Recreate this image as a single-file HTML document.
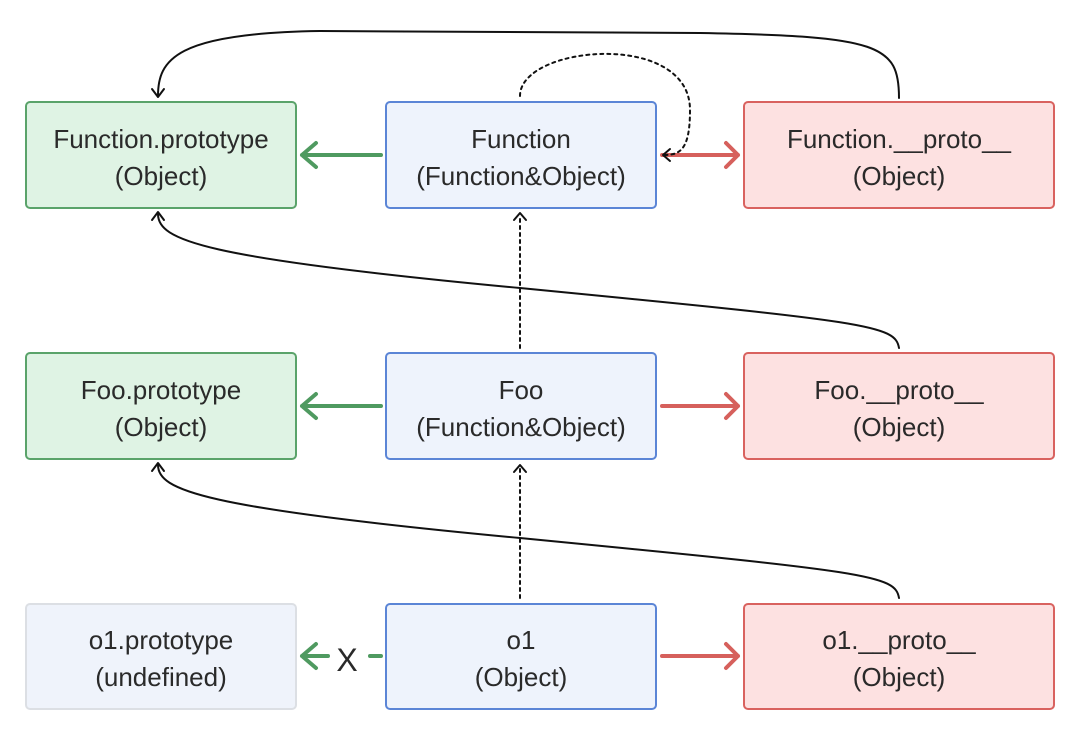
<!DOCTYPE html>
<html><head><meta charset="utf-8"><style>
body{margin:0;background:#fff}
svg text{font-family:"Liberation Sans","Noto Sans CJK SC",sans-serif;font-size:26px;fill:#2a2a2a;text-anchor:middle}
</style></head><body>
<svg width="1080" height="735" viewBox="0 0 1080 735" xmlns="http://www.w3.org/2000/svg">
<g stroke-width="2">
<rect x="26" y="102" width="270" height="106" rx="4" fill="#dff3e4" stroke="#5aa36a"/>
<rect x="386" y="102" width="270" height="106" rx="4" fill="#eef3fc" stroke="#5b85d6"/>
<rect x="744" y="102" width="310" height="106" rx="4" fill="#fde1e1" stroke="#d9625f"/>
<rect x="26" y="353" width="270" height="106" rx="4" fill="#dff3e4" stroke="#5aa36a"/>
<rect x="386" y="353" width="270" height="106" rx="4" fill="#eef3fc" stroke="#5b85d6"/>
<rect x="744" y="353" width="310" height="106" rx="4" fill="#fde1e1" stroke="#d9625f"/>
<rect x="26" y="604" width="270" height="105" rx="4" fill="#eff3fb" stroke="#dcdfe4"/>
<rect x="386" y="604" width="270" height="105" rx="4" fill="#eef3fc" stroke="#5b85d6"/>
<rect x="744" y="604" width="310" height="105" rx="4" fill="#fde1e1" stroke="#d9625f"/>
</g>
<text x="161" y="148">Function.prototype</text><text x="161" y="185">(Object)</text>
<text x="521" y="148">Function</text><text x="521" y="185">(Function&amp;Object)</text>
<text x="899" y="148">Function.__proto__</text><text x="899" y="185">(Object)</text>
<text x="161" y="399">Foo.prototype</text><text x="161" y="436">(Object)</text>
<text x="521" y="399">Foo</text><text x="521" y="436">(Function&amp;Object)</text>
<text x="899" y="399">Foo.__proto__</text><text x="899" y="436">(Object)</text>
<text x="161" y="649">o1.prototype</text><text x="161" y="686">(undefined)</text>
<text x="521" y="649">o1</text><text x="521" y="686">(Object)</text>
<text x="899" y="649">o1.__proto__</text><text x="899" y="686">(Object)</text>
<text x="347" y="671" style="font-size:32px">X</text>
<g fill="none" stroke-linecap="round" stroke-linejoin="round">
<g stroke="#4f9a60" stroke-width="4">
<path d="M381,155 H302 M316,143 L302,155 L316,167"/>
<path d="M381,406 H302 M316,394 L302,406 L316,418"/>
<path d="M381,656 H370 M328,656 H302 M316,644 L302,656 L316,668"/>
</g>
<g stroke="#d6605c" stroke-width="4">
<path d="M662,155 H738 M726,143 L738,155 L726,167"/>
<path d="M662,406 H738 M726,394 L738,406 L726,418"/>
<path d="M662,656 H738 M726,644 L738,656 L726,668"/>
</g>
<g stroke="#111" stroke-width="2">
<path d="M899,98 C899,45 880,36 700,33 L320,31 C175,33 158,60 158,96"/>
<path d="M152,89 L158,97 L164,89"/>
<path d="M899,348 C895,325 870,322 520,288 C200,258 158,240 158,214"/>
<path d="M152,220 L158,212 L164,220"/>
<path d="M899,598 C895,575 870,572 520,538 C200,508 158,490 158,465"/>
<path d="M152,471 L158,463 L164,471"/>
</g>
<g stroke="#111" stroke-width="2" stroke-dasharray="3,4">
<path d="M520,96 C520,45 690,30 690,110 C690,150 680,155 664,155"/>
<path d="M520,598 V468"/>
<path d="M520,348 V216"/>
</g>
<g stroke="#111" stroke-width="2">
<path d="M670,149 L663,155 L670,161"/>
<path d="M514,472 L520,465 L526,472"/>
<path d="M514,220 L520,213 L526,220"/>
</g>
</g>
</svg>
</body></html>
